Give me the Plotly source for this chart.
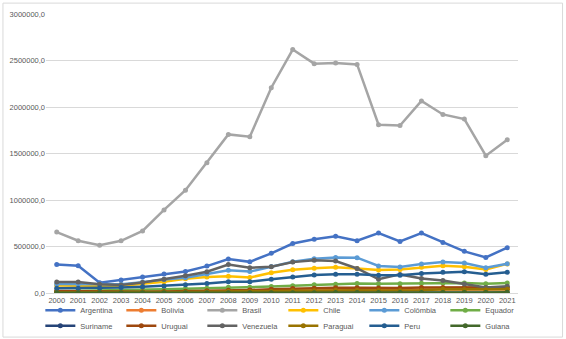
import plotly.graph_objects as go

years = [str(y) for y in range(2000, 2022)]

argentina = [307000, 294000, 110000, 139000, 171000, 203000, 232000, 289000, 366000, 335000, 427000, 532000,
             578000, 610000, 562000, 644000, 555000, 645000, 543000, 448000, 383000, 487000]
bolivia = [8400, 8100, 7900, 8100, 8800, 9500, 11500, 13100, 16700, 17300, 19700, 24000,
           27100, 30700, 33000, 33000, 33900, 37500, 40300, 40900, 36600, 40400]
brasil = [655000, 562000, 514000, 561000, 668000, 893000, 1105000, 1400000, 1705000, 1680000, 2207000, 2618000,
          2466000, 2473000, 2458000, 1810000, 1800000, 2065000, 1920000, 1871000, 1477000, 1649000]
chile = [80000, 77000, 73000, 76000, 99000, 121000, 152000, 172000, 181000, 166000, 217000, 251000,
         265000, 278000, 263000, 246000, 252000, 276000, 293000, 281000, 252000, 313000]
colombia = [98000, 97000, 97000, 94000, 117000, 146000, 163000, 205000, 245000, 230000, 286000, 335000,
            369000, 382000, 380000, 291000, 280000, 313000, 334000, 322000, 271000, 314000]
equador = [18300, 24500, 28500, 32400, 36600, 41500, 46800, 51000, 61800, 62500, 69600, 79300,
           87900, 95100, 101700, 99300, 99900, 104300, 107600, 108100, 99300, 106200]
suriname = [1200, 900, 1300, 1500, 1800, 2100, 2600, 2900, 3500, 3900, 4400, 4400,
            5000, 5200, 5200, 4800, 3300, 3200, 3500, 3700, 2900, 3000]
uruguai = [22800, 20900, 13600, 12000, 13700, 17400, 19600, 23400, 30400, 31700, 40300, 48000,
           51300, 57500, 57200, 53300, 52700, 59500, 59600, 56000, 53600, 61400]
venezuela = [118000, 118000, 93000, 87000, 112000, 147000, 186000, 228000, 307000, 271000, 282000, 332000,
             353000, 343000, 264000, 149000, 200000, 155000, 134000, 98000, 59000, 72000]
paraguai = [8900, 8200, 6800, 7000, 8400, 9000, 10500, 13800, 18500, 15900, 20000, 25100,
            24600, 28900, 30900, 27300, 27400, 29000, 40200, 37900, 35400, 39500]
peru = [51700, 52000, 54800, 58700, 66800, 76100, 88600, 102200, 120600, 120800, 147500, 171800,
        192600, 201200, 200800, 189800, 191900, 211000, 222600, 228300, 201700, 223300]
guiana = [1700, 1660, 1700, 1760, 1830, 1970, 2190, 2650, 2830, 2990, 3380, 3640,
          3960, 4120, 4130, 4280, 4420, 4590, 4790, 5170, 5470, 8040]

series = [
    ("Argentina", argentina, "#4472C4", "legend"),
    ("Bolívia", bolivia, "#ED7D31", "legend"),
    ("Brasil", brasil, "#A5A5A5", "legend"),
    ("Chile", chile, "#FFC000", "legend"),
    ("Colômbia", colombia, "#5B9BD5", "legend"),
    ("Equador", equador, "#70AD47", "legend"),
    ("Suriname", suriname, "#264478", "legend2"),
    ("Uruguai", uruguai, "#9E480E", "legend2"),
    ("Venezuela", venezuela, "#636363", "legend2"),
    ("Paraguai", paraguai, "#997300", "legend2"),
    ("Peru", peru, "#255E91", "legend2"),
    ("Guiana", guiana, "#43682B", "legend2"),
]

fig = go.Figure()
for name, vals, color, lg in series:
    fig.add_trace(go.Scatter(
        x=years, y=vals, name=name, mode="lines+markers",
        line=dict(color=color, width=2.5),
        marker=dict(color=color, size=5, symbol="circle"),
        legend=lg,
    ))

font = dict(family="Liberation Sans, Arial, sans-serif", size=7.5, color="#595959")

leg_common = dict(orientation="h", x=-0.012, xanchor="left", yanchor="middle",
                  entrywidth=36, entrywidthmode="pixels", font=font,
                  bgcolor="rgba(0,0,0,0)", tracegroupgap=0, itemclick=False,
                  borderwidth=0)

fig.update_layout(
    width=566, height=339,
    margin=dict(l=46, r=48, t=14, b=46, autoexpand=False),
    paper_bgcolor="white", plot_bgcolor="white",
    font=font,
    separators=",.",
    showlegend=True,
    legend=dict(y=-0.062, **leg_common),
    legend2=dict(y=-0.117, **leg_common),
    xaxis=dict(type="category", range=[-0.5, len(years) - 0.5], showgrid=False, showline=True,
               linecolor="#D9D9D9", linewidth=1,
               ticks="", tickfont=font, fixedrange=True, automargin=False),
    yaxis=dict(range=[0, 3000000], dtick=500000, tickformat=".1f", showgrid=True,
               gridcolor="#D9D9D9", gridwidth=1, zeroline=False, showline=False,
               ticks="", tickfont=font, fixedrange=True, automargin=False),
    shapes=[dict(type="rect", xref="paper", yref="paper",
                 x0=-0.0912, x1=1.0944, y0=-0.158, y1=1.039,
                 line=dict(color="#D9D9D9", width=1), fillcolor="rgba(0,0,0,0)", layer="below")],
)

fig.write_html("out.html", config={"displayModeBar": False, "staticPlot": True},
               post_script="document.body.style.margin='0';")
